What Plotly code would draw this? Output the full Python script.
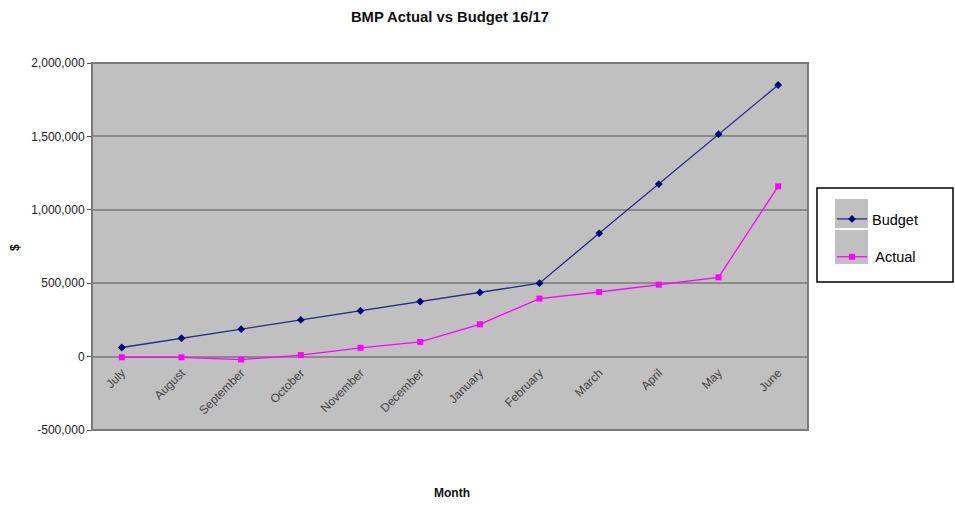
import plotly.graph_objects as go

months = ["July", "August", "September", "October", "November", "December",
          "January", "February", "March", "April", "May", "June"]
budget = [62000, 125000, 187000, 250000, 312000, 375000, 437000, 500000,
          840000, 1175000, 1515000, 1850000]
actual = [-5000, -5000, -20000, 10000, 60000, 100000, 220000, 395000,
          440000, 490000, 540000, 1160000]
y_ticks = [-500000, 0, 500000, 1000000, 1500000, 2000000]
y_tick_labels = ["-500,000", "0", "500,000", "1,000,000", "1,500,000", "2,000,000"]

W, H = 955, 508
L, R, T, B = 92, 147, 63, 78
pw, ph = W - L - R, H - T - B

def px(x):
    return (x - L) / pw

def py(y):
    return (H - B - y) / ph

fig = go.Figure()
fig.add_trace(go.Scatter(
    x=months, y=budget, name="Budget", mode="lines+markers",
    line=dict(color="#2a2a88", width=1.3),
    marker=dict(symbol="diamond", size=6, color="#000080"),
    legendgroup="b"))
fig.add_trace(go.Scatter(
    x=months, y=actual, name=" Actual", mode="lines+markers",
    line=dict(color="#ff00ff", width=1.3),
    marker=dict(symbol="square", size=6, color="#ff00ff"),
    legendgroup="a"))

shapes = [
    dict(type="rect", xref="paper", yref="paper", x0=0, x1=1, y0=0, y1=1,
         line=dict(color="#7a7a7a", width=2), layer="above"),
    # legend box
    dict(type="rect", xref="paper", yref="paper", x0=px(817), x1=px(953),
         y0=py(282), y1=py(188), line=dict(color="black", width=1.5),
         fillcolor="white", layer="below"),
    dict(type="rect", xref="paper", yref="paper", x0=px(835), x1=px(868),
         y0=py(228), y1=py(199), line=dict(width=0), fillcolor="#c0c0c0",
         layer="below"),
    dict(type="rect", xref="paper", yref="paper", x0=px(835), x1=px(868),
         y0=py(264), y1=py(230), line=dict(width=0), fillcolor="#c0c0c0",
         layer="below"),
]

fig.update_layout(
    width=W, height=H,
    margin=dict(l=L, r=R, t=T, b=B),
    paper_bgcolor="white",
    plot_bgcolor="#c0c0c0",
    font=dict(family="Arial, Liberation Sans, sans-serif", size=12, color="#222"),
    title=dict(text="<b>BMP Actual vs Budget 16/17</b>", xref="paper", x=0.5,
               xanchor="center", y=1 - 17 / H, yanchor="middle",
               font=dict(size=14.8, color="#111")),
    xaxis=dict(
        type="category", range=[-0.5, 11.5],
        anchor="free", position=0.2, automargin=False,
        showgrid=False, showline=False, zeroline=False,
        tickangle=-45, ticks="", ticklabelstandoff=6,
        tickfont=dict(size=12, color="#444"),
    ),
    yaxis=dict(
        range=[-500000, 2000000], tickvals=y_ticks, ticktext=y_tick_labels,
        automargin=False,
        showgrid=True, gridcolor="#8a8a8a", gridwidth=2,
        zeroline=True, zerolinecolor="#8a8a8a", zerolinewidth=2,
        ticks="outside", ticklen=4, tickcolor="#555",
        tickfont=dict(size=12, color="#222"),
    ),
    showlegend=True,
    legend=dict(
        x=px(832), xanchor="left", y=py(203), yanchor="top",
        bgcolor="rgba(0,0,0,0)", borderwidth=0,
        font=dict(size=14.5, color="#000"),
        tracegroupgap=16, traceorder="grouped",
    ),
    shapes=shapes,
    annotations=[
        dict(text="<b>Month</b>", xref="paper", yref="paper", x=px(452), y=py(502),
             showarrow=False, font=dict(size=12, color="#111")),
        dict(text="<b>$</b>", xref="paper", yref="paper", x=px(15), y=py(248),
             xanchor="center", yanchor="middle",
             showarrow=False, textangle=-90, font=dict(size=12, color="#111")),
    ],
)

fig.write_html("out.html")
